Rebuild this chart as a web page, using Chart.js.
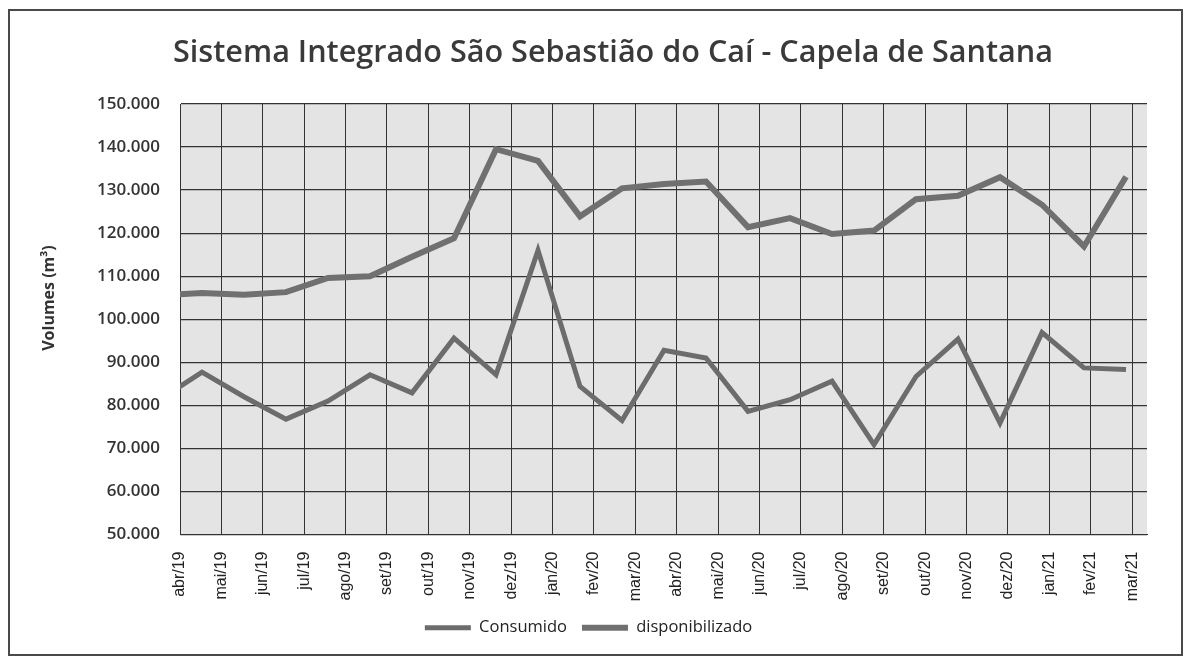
<!DOCTYPE html>
<html>
<head>
<meta charset="utf-8">
<script src="https://cdn.jsdelivr.net/npm/chart.js@4.4.1/dist/chart.umd.min.js"></script>
<style>
  body { margin: 0; background: #fff; }
  canvas { display: block; }
</style>
</head>
<body>
<canvas id="grafico" width="1187" height="660"></canvas>
<script>
// meses do eixo x
const meses = ["abr/19","mai/19","jun/19","jul/19","ago/19","set/19","out/19","nov/19","dez/19","jan/20",
  "fev/20","mar/20","abr/20","mai/20","jun/20","jul/20","ago/20","set/20","out/20","nov/20",
  "dez/20","jan/21","fev/21","mar/21"];

// volumes (m³) - o primeiro valor fica antes da borda esquerda e aparece cortado
const consumido = [81400, 87700, 82000, 76800, 81000, 87100, 82900, 95600, 87100, 116000,
  84400, 76500, 92800, 91000, 78600, 81300, 85600, 70900, 86700, 95400,
  75900, 96900, 88700, 88300];
const disponibilizado = [105500, 106100, 105700, 106300, 109600, 110000, 114500, 118800, 139500, 136800,
  123900, 130400, 131400, 132000, 121400, 123500, 119800, 120600, 127900, 128700,
  133000, 126600, 116900, 133100];

const yTicks = [50000, 60000, 70000, 80000, 90000, 100000, 110000, 120000, 130000, 140000, 150000];

const titulo = "Sistema Integrado São Sebastião do Caí - Capela de Santana";
const tituloY = "Volumes (m³)";

// fundo cinza da área do gráfico, títulos e moldura
const extras = {
  id: "extras",
  beforeDraw(chart) {
    const ctx = chart.ctx;
    const a = chart.chartArea;
    ctx.save();
    ctx.fillStyle = "#fff";
    ctx.fillRect(0, 0, chart.width, chart.height);
    ctx.fillStyle = "#e4e4e4";
    ctx.fillRect(a.left, a.top, a.right - a.left, a.bottom - a.top);
    ctx.restore();
  },
  afterDraw(chart) {
    const ctx = chart.ctx;
    ctx.save();
    ctx.fillStyle = "#3a3a3a";
    ctx.font = '600 30.6px "Open Sans"';
    ctx.textAlign = "center";
    ctx.textBaseline = "alphabetic";
    ctx.fillText(titulo, 613, 62);

    ctx.translate(49, 298);
    ctx.rotate(-Math.PI / 2);
    ctx.fillStyle = "#333";
    ctx.font = 'bold 16px "Open Sans"';
    ctx.textBaseline = "middle";
    ctx.fillText(tituloY, 0, 0);
    ctx.restore();

    ctx.save();
    ctx.strokeStyle = "#4a4a4a";
    ctx.lineWidth = 2;
    ctx.strokeRect(9, 10, 1173, 645);
    ctx.restore();
  }
};

const toPoints = arr => arr.map((v, i) => ({ x: i, y: v }));

new Chart("grafico", {
  type: "line",
  data: {
    datasets: [
      {
        label: "Consumido",
        data: toPoints(consumido),
        xAxisID: "xd",
        borderColor: "#6c6c6c",
        backgroundColor: "#6c6c6c",
        borderWidth: 5,
        pointRadius: 0,
        clip: 0
      },
      {
        label: "disponibilizado",
        data: toPoints(disponibilizado),
        xAxisID: "xd",
        borderColor: "#707070",
        backgroundColor: "#707070",
        borderWidth: 6,
        pointRadius: 0,
        clip: 0
      }
    ]
  },
  options: {
    responsive: false,
    animation: false,
    devicePixelRatio: 1,
    layout: { padding: { top: 104, right: 40, bottom: 14, left: 30 } },
    scales: {
      x: {
        type: "linear",
        position: "bottom",
        min: 0,
        max: 23.36,
        afterFit: s => { s.height = 70; },
        grid: { color: "#333", lineWidth: 1, drawTicks: false },
        border: { color: "#333" },
        ticks: {
          stepSize: 1,
          includeBounds: false,
          autoSkip: false,
          minRotation: 90,
          maxRotation: 90,
          padding: 17,
          color: "#222",
          font: { family: '"Liberation Sans", Arial, sans-serif', size: 16 },
          callback: v => meses[v]
        }
      },
      xd: {
        type: "linear",
        display: false,
        min: 0.476,
        max: 23.5
      },
      y: {
        min: 50000,
        max: 150000,
        afterFit: s => { s.width = 150; },
        afterBuildTicks: s => { s.ticks = yTicks.map(v => ({ value: v })); },
        grid: { color: "#333", lineWidth: 1.2, drawTicks: false },
        border: { color: "#333" },
        ticks: {
          padding: 20,
          color: "#333",
          font: { family: '"Open Sans"', size: 17, weight: 600 },
          callback: v => (v / 1000) + ".000"
        }
      }
    },
    plugins: {
      legend: {
        position: "bottom",
        labels: {
          usePointStyle: true,
          pointStyle: "line",
          pointStyleWidth: 46,
          padding: 15,
          color: "#222",
          font: { family: '"Open Sans"', size: 16.5 }
        }
      },
      tooltip: { enabled: false }
    }
  },
  plugins: [extras]
});
</script>
</body>
</html>
